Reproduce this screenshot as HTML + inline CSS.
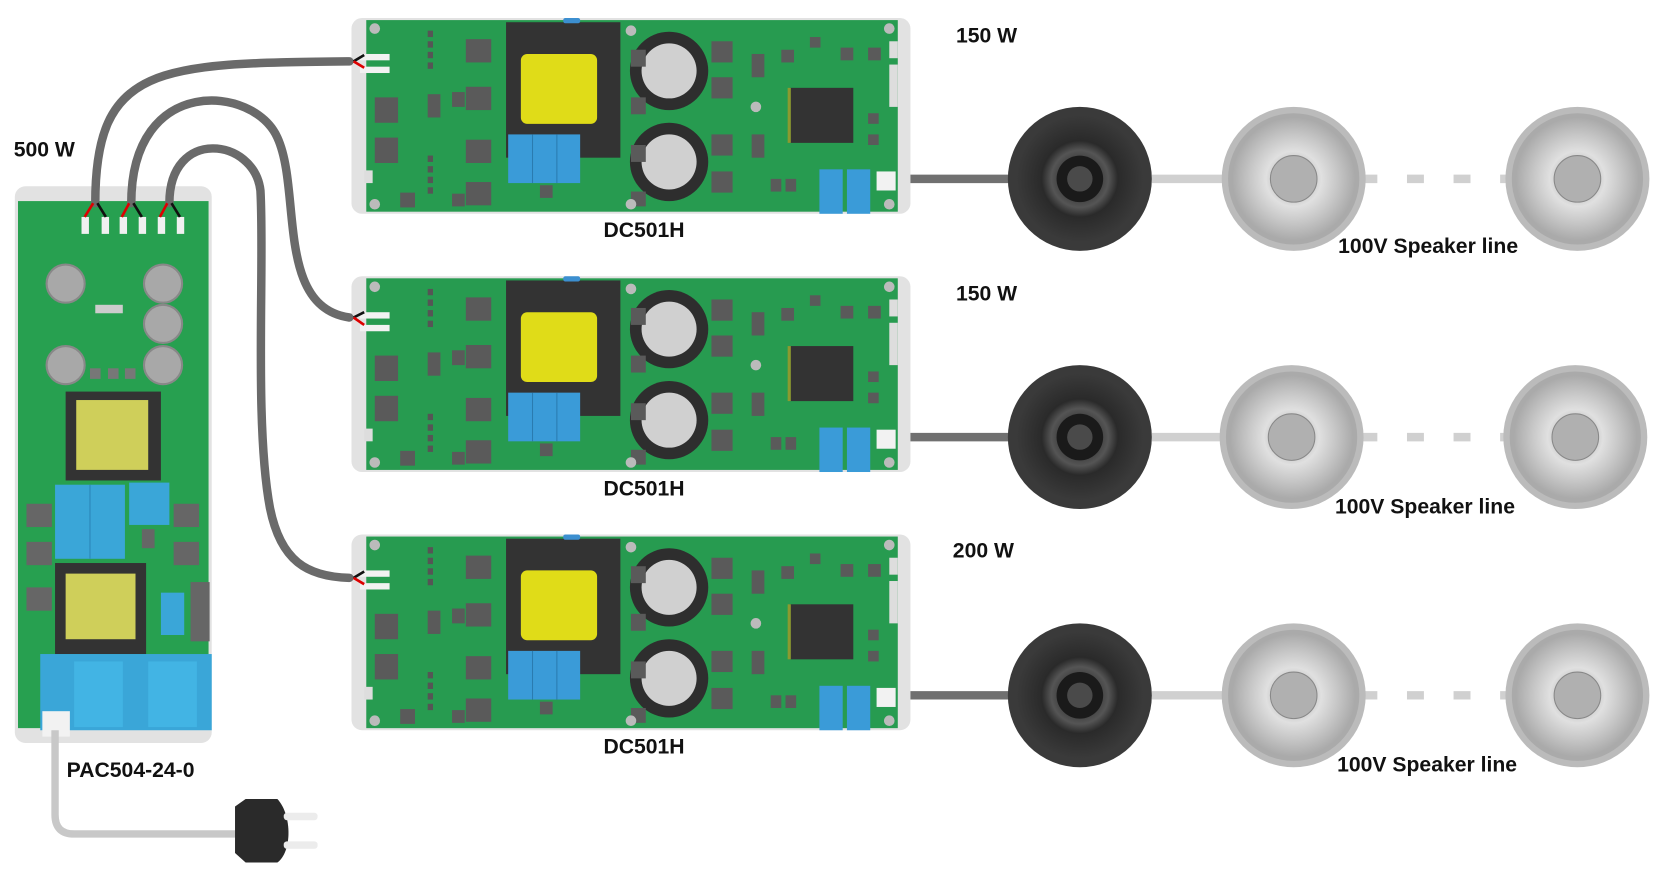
<!DOCTYPE html>
<html><head><meta charset="utf-8"><style>
html,body{margin:0;padding:0;background:#fff;}
svg{display:block;}
text{font-family:"Liberation Sans",sans-serif;font-weight:bold;fill:#111;}
</style></head><body>
<svg width="1660" height="871" viewBox="0 0 1568 823" preserveAspectRatio="none" xmlns="http://www.w3.org/2000/svg">
<defs>
<radialGradient id="blk" cx="50%" cy="50%" r="50%"><stop offset="0" stop-color="#111"/><stop offset=".45" stop-color="#555"/><stop offset=".6" stop-color="#2a2a2a"/><stop offset="1" stop-color="#3a3a3a"/></radialGradient>
<radialGradient id="gry" cx="50%" cy="50%" r="50%"><stop offset="0" stop-color="#999"/><stop offset=".45" stop-color="#e0e0e0"/><stop offset=".7" stop-color="#c8c8c8"/><stop offset="1" stop-color="#aaa"/></radialGradient>
<g id="board">
  <rect x="0" y="0" width="528" height="185" rx="10" fill="#e2e2e2"/>
  <rect x="14" y="2" width="502" height="181" fill="#2aa055"/>
  <rect x="14" y="2" width="502" height="181" fill="#1f8a45" opacity=".25"/>
  <!-- input wires -->
  <rect x="8" y="34" width="28" height="6" fill="#f2f2f2"/><rect x="8" y="46" width="28" height="6" fill="#f2f2f2"/>
  <!-- transformer -->
  <rect x="146" y="4" width="108" height="128" fill="#333"/>
  <rect x="160" y="34" width="72" height="66" rx="6" fill="#e0dc18"/>
  <rect x="200" y="0" width="16" height="5" rx="2" fill="#3c8fd0"/>
  <rect x="148" y="110" width="68" height="46" fill="#3a9bd8"/>
  <line x1="171" y1="110" x2="171" y2="156" stroke="#2a7bb0"/><line x1="194" y1="110" x2="194" y2="156" stroke="#2a7bb0"/>
  <!-- caps -->
  <circle cx="300" cy="50" r="37" fill="#2e2e2e"/><circle cx="300" cy="50" r="26" fill="#d0d0d0"/>
  <circle cx="300" cy="136" r="37" fill="#2e2e2e"/><circle cx="300" cy="136" r="26" fill="#d0d0d0"/>
  <!-- chip -->
  <rect x="414" y="66" width="60" height="52" fill="#333"/>
  <rect x="412" y="66" width="3" height="52" fill="#8c9a30"/>
  <!-- blue out caps -->
  <rect x="442" y="143" width="22" height="42" fill="#3a9bd8"/><rect x="468" y="143" width="22" height="42" fill="#3a9bd8"/>
  <rect x="496" y="145" width="18" height="18" fill="#f2f2f2"/>
  <!-- misc components -->
  <g fill="#5a5a5a">
    <rect x="108" y="20" width="24" height="22"/><rect x="108" y="65" width="24" height="22"/><rect x="108" y="115" width="24" height="22"/><rect x="108" y="155" width="24" height="22"/>
    <rect x="22" y="75" width="22" height="24"/><rect x="22" y="113" width="22" height="24"/>
    <rect x="72" y="72" width="12" height="22"/><rect x="95" y="70" width="12" height="14"/><rect x="95" y="166" width="12" height="12"/>
    <rect x="46" y="165" width="14" height="14"/><rect x="178" y="158" width="12" height="12"/>
    <rect x="340" y="22" width="20" height="20"/><rect x="340" y="56" width="20" height="20"/><rect x="340" y="110" width="20" height="20"/><rect x="340" y="145" width="20" height="20"/>
    <rect x="264" y="30" width="14" height="16"/><rect x="264" y="75" width="14" height="16"/><rect x="264" y="120" width="14" height="16"/><rect x="264" y="164" width="14" height="14"/>
    <rect x="378" y="34" width="12" height="22"/><rect x="378" y="110" width="12" height="22"/>
    <rect x="406" y="30" width="12" height="12"/><rect x="433" y="18" width="10" height="10"/><rect x="462" y="28" width="12" height="12"/><rect x="488" y="28" width="12" height="12"/>
    <rect x="488" y="90" width="10" height="10"/><rect x="488" y="110" width="10" height="10"/>
    <rect x="396" y="152" width="10" height="12"/><rect x="410" y="152" width="10" height="12"/>
  </g>
  <g fill="#555"><rect x="72" y="12" width="5" height="6"/><rect x="72" y="22" width="5" height="6"/><rect x="72" y="32" width="5" height="6"/><rect x="72" y="42" width="5" height="6"/><rect x="72" y="130" width="5" height="6"/><rect x="72" y="140" width="5" height="6"/><rect x="72" y="150" width="5" height="6"/><rect x="72" y="160" width="5" height="6"/></g>
  <g fill="#bbb"><circle cx="22" cy="10" r="5"/><circle cx="22" cy="176" r="5"/><circle cx="264" cy="12" r="5"/><circle cx="264" cy="176" r="5"/><circle cx="508" cy="10" r="5"/><circle cx="508" cy="176" r="5"/><circle cx="382" cy="84" r="5"/></g>
  <rect x="508" y="22" width="8" height="16" fill="#ddd"/><rect x="508" y="44" width="8" height="40" fill="#ddd"/><rect x="12" y="144" width="8" height="12" fill="#ddd"/>
</g>
<g id="blackspk"><circle r="68" fill="#3a3a3a"/><circle r="60" fill="url(#blk)"/><circle r="22" fill="#1a1a1a"/><circle r="12" fill="#4a4a4a"/></g>
<g id="grayspk"><circle r="68" fill="#bbb"/><circle r="62" fill="#aaa"/><circle r="58" fill="url(#gry)"/><circle r="22" fill="#b0b0b0" stroke="#888"/></g>
</defs>

<!-- speaker lines -->
<g stroke-width="8">
  <g stroke="#707070"><line x1="848" y1="169" x2="955" y2="169"/><line x1="848" y1="413" x2="955" y2="413"/><line x1="848" y1="657" x2="955" y2="657"/></g>
  <g stroke="#d0d0d0"><line x1="1088" y1="169" x2="1160" y2="169"/><line x1="1088" y1="413" x2="1160" y2="413"/><line x1="1088" y1="657" x2="1160" y2="657"/>
  <line x1="1285" y1="169" x2="1425" y2="169" stroke-dasharray="16,28"/><line x1="1285" y1="413" x2="1425" y2="413" stroke-dasharray="16,28"/><line x1="1285" y1="657" x2="1425" y2="657" stroke-dasharray="16,28"/></g>
</g>

<use href="#board" x="332" y="17"/>
<use href="#board" x="332" y="261"/>
<use href="#board" x="332" y="505"/>

<!-- PAC board -->
<rect x="14" y="176" width="186" height="526" rx="10" fill="#e2e2e2"/>
<rect x="17" y="190" width="180" height="498" fill="#27a050"/>
<g fill="#a8a8a8" stroke="#888" stroke-width="2"><circle cx="62" cy="268" r="18"/><circle cx="154" cy="268" r="18"/><circle cx="154" cy="306" r="18"/><circle cx="154" cy="345" r="18"/><circle cx="62" cy="345" r="18"/></g>
<g fill="#777"><rect x="85" y="348" width="10" height="10"/><rect x="102" y="348" width="10" height="10"/><rect x="118" y="348" width="10" height="10"/><rect x="90" y="288" width="26" height="8" fill="#ccc"/></g>
<rect x="62" y="370" width="90" height="84" fill="#333"/><rect x="72" y="378" width="68" height="66" fill="#cfcf5a"/>
<rect x="52" y="458" width="66" height="70" fill="#3aa6d8"/><line x1="85" y1="458" x2="85" y2="528" stroke="#2a86b8"/>
<rect x="122" y="456" width="38" height="40" fill="#3aa6d8"/>
<g fill="#666"><rect x="25" y="476" width="24" height="22"/><rect x="25" y="512" width="24" height="22"/><rect x="25" y="555" width="24" height="22"/><rect x="164" y="476" width="24" height="22"/><rect x="164" y="512" width="24" height="22"/><rect x="134" y="500" width="12" height="18"/><rect x="180" y="550" width="18" height="56"/></g>
<rect x="52" y="532" width="86" height="86" fill="#333"/><rect x="62" y="542" width="66" height="62" fill="#cfcf5a"/>
<rect x="152" y="560" width="22" height="40" fill="#3aa6d8"/>
<rect x="38" y="618" width="162" height="72" fill="#3aa6d8"/>
<rect x="70" y="625" width="46" height="62" fill="#42b4e4"/><rect x="140" y="625" width="46" height="62" fill="#42b4e4"/>
<rect x="40" y="672" width="26" height="24" fill="#f2f2f2"/>
<g fill="#f0f0f0"><rect x="77" y="205" width="7" height="16"/><rect x="96" y="205" width="7" height="16"/><rect x="113" y="205" width="7" height="16"/><rect x="131" y="205" width="7" height="16"/><rect x="149" y="205" width="7" height="16"/><rect x="167" y="205" width="7" height="16"/></g>

<!-- cables -->
<g fill="none" stroke="#6a6a6a" stroke-width="8" stroke-linecap="round">
  <path d="M90 192 C90 60 150 60 330 58"/>
  <path d="M124 192 C124 70 240 80 262 130 C285 180 260 290 330 300"/>
  <path d="M160 192 C160 120 240 130 246 180 C250 250 240 400 255 480 C265 530 290 545 330 546"/>
</g>
<g fill="none" stroke-width="2.5">
  <path d="M88 192 L80 205" stroke="#d00"/><path d="M92 192 L100 205" stroke="#111"/>
  <path d="M122 192 L115 205" stroke="#d00"/><path d="M126 192 L134 205" stroke="#111"/>
  <path d="M158 192 L151 205" stroke="#d00"/><path d="M162 192 L170 205" stroke="#111"/>
  <path d="M334 58 L344 52" stroke="#111"/><path d="M334 58 L344 64" stroke="#d00"/>
  <path d="M334 300 L344 295" stroke="#111"/><path d="M334 300 L344 307" stroke="#d00"/>
  <path d="M334 546 L344 540" stroke="#111"/><path d="M334 546 L344 552" stroke="#d00"/>
</g>
<path d="M52 690 L52 770 Q52 788 70 788 L222 788" fill="none" stroke="#c8c8c8" stroke-width="7"/>
<!-- plug -->
<path d="M222 762 L232 755 L262 755 C276 770 276 805 262 815 L232 815 L222 806 Z" fill="#2a2a2a"/>
<rect x="268" y="768" width="32" height="7" rx="3" fill="#ececec"/><rect x="268" y="795" width="32" height="7" rx="3" fill="#ececec"/>

<use href="#blackspk" x="1020" y="169"/><use href="#grayspk" x="1222" y="169"/><use href="#grayspk" x="1490" y="169"/>
<use href="#blackspk" x="1020" y="413"/><use href="#grayspk" x="1220" y="413"/><use href="#grayspk" x="1488" y="413"/>
<use href="#blackspk" x="1020" y="657"/><use href="#grayspk" x="1222" y="657"/><use href="#grayspk" x="1490" y="657"/>

<g font-size="20">
<text x="903" y="40">150 W</text><text x="903" y="284">150 W</text><text x="900" y="527">200 W</text>
<text x="13" y="148">500 W</text>
<text x="570" y="224">DC501H</text><text x="570" y="468">DC501H</text><text x="570" y="712">DC501H</text>
<text x="1264" y="239">100V Speaker line</text><text x="1261" y="485">100V Speaker line</text><text x="1263" y="729">100V Speaker line</text>
<text x="63" y="734">PAC504-24-0</text>
</g>
</svg>
</body></html>
